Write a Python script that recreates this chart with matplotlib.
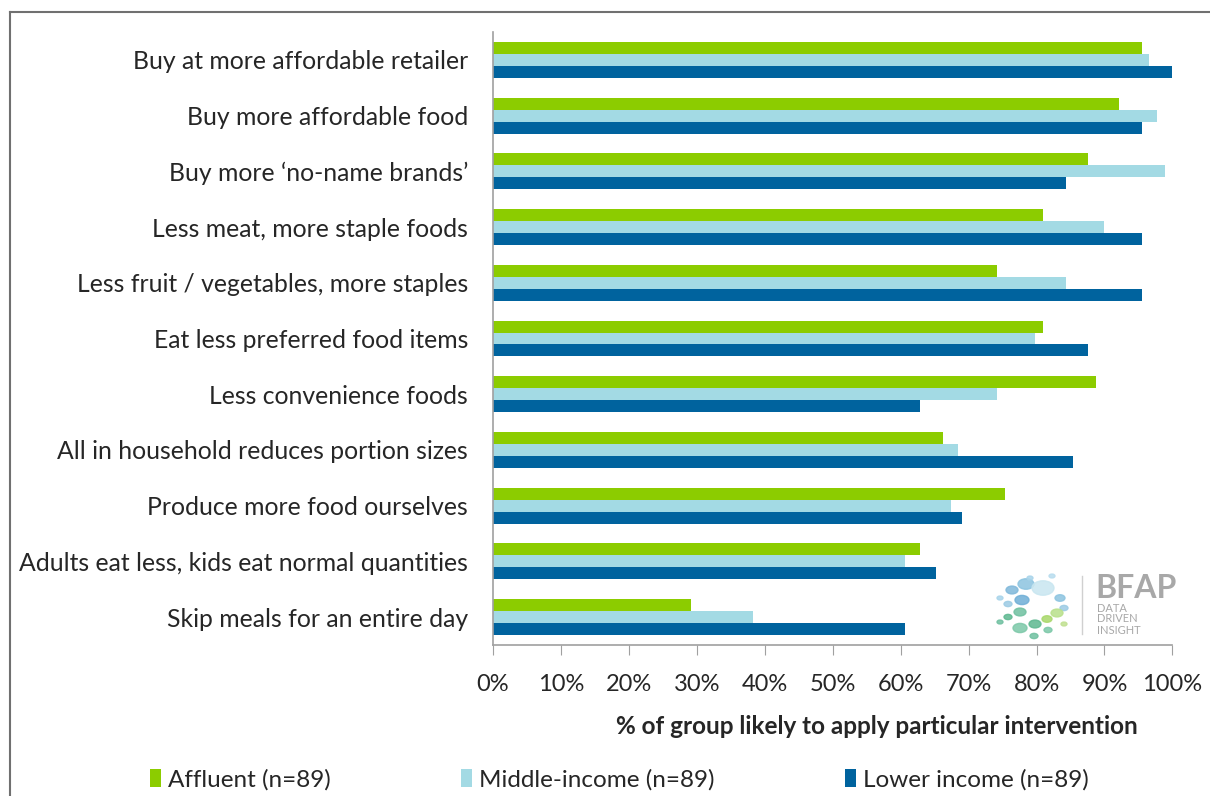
import numpy as np
import matplotlib.pyplot as plt
from matplotlib.patches import Patch, Circle
from matplotlib.lines import Line2D
from matplotlib.ticker import PercentFormatter

plt.rcParams['font.family'] = ['Lato', 'DejaVu Sans']

# Interventions (top to bottom) and share of each group (%)
categories = [
    'Buy at more affordable retailer',
    'Buy more affordable food',
    'Buy more \u2018no-name brands\u2019',
    'Less meat, more staple foods',
    'Less fruit / vegetables, more staples',
    'Eat less preferred food items',
    'Less convenience foods',
    'All in household reduces portion sizes',
    'Produce more food ourselves',
    'Adults eat less, kids eat normal quantities',
    'Skip meals for an entire day',
]
affluent = [95.5, 92.1, 87.6, 80.9, 74.2, 80.9, 88.8, 66.3, 75.3, 62.9, 29.2]
middle = [96.6, 97.8, 98.9, 89.9, 84.3, 79.8, 74.2, 68.5, 67.4, 60.7, 38.2]
lower = [100.0, 95.5, 84.3, 95.5, 95.5, 87.6, 62.9, 85.4, 69.1, 65.2, 60.7]

series_names = ['Affluent (n=89)', 'Middle-income (n=89)', 'Lower income (n=89)']
colors = ['#8CCC00', '#A3DAE4', '#00639E']

fig = plt.figure(figsize=(12.1, 7.96), dpi=100)
ax = fig.add_axes([493 / 1210, 1 - 645 / 796, (1172.4 - 493) / 1210, (645 - 32) / 796])

y = np.arange(len(categories))
h = 0.215
for off, vals, c in zip([-h, 0, h], [affluent, middle, lower], colors):
    ax.barh(y + off, vals, height=h, color=c, edgecolor='none')

ax.set_ylim(len(categories) - 0.5, -0.5)
ax.set_xlim(0, 100)
ax.set_xticks(np.arange(0, 101, 10))
ax.xaxis.set_major_formatter(PercentFormatter(decimals=0))
ax.set_yticks(y)
ax.set_yticklabels(categories, fontsize=17.8, color='#262626')
ax.tick_params(axis='y', length=0, pad=18)
ax.tick_params(axis='x', length=7, color='#A0A0A0', labelsize=17,
               labelcolor='#262626', pad=14)
for s in ['top', 'right']:
    ax.spines[s].set_visible(False)
for s in ['left', 'bottom']:
    ax.spines[s].set_color('#A0A0A0')
    ax.spines[s].set_linewidth(1.2)

ax.set_xlabel('% of group likely to apply particular intervention',
              fontsize=17.5, fontweight='bold', color='#262626')
ax.xaxis.set_label_coords((877 - 493) / (1172.4 - 493), -(726 - 645) / (645 - 32))
ax.xaxis.label.set_va('center')

handles = [Patch(facecolor=c, edgecolor='none') for c in colors]
fig.legend(handles, series_names, loc='lower left', bbox_to_anchor=(128 / 1210, -0.021),
           ncol=3, frameon=False, fontsize=17.5, handlelength=0.45, handleheight=0.75,
           handletextpad=0.3, columnspacing=5.35, labelcolor='#262626')

# frame lines of the original slide
fig.add_artist(Line2D([10 / 1210, 10 / 1210], [0, 1 - 12 / 796], color='#707070', lw=1.5))
fig.add_artist(Line2D([10 / 1210, 1], [1 - 12 / 796, 1 - 12 / 796], color='#707070', lw=1.5))

# BFAP logo (approximate)
dots = [
    (1012, 590, 6, '#7FB8DA'), (1026, 584, 8, '#8CC4E0'), (1043, 588, 11, '#C8E6F0'),
    (1022, 600, 7, '#6FAED6'), (1008, 604, 4, '#9CCBE4'), (1060, 598, 5, '#8CC4E0'),
    (1064, 608, 4, '#9CCBE4'), (1030, 578, 3, '#A8D4EA'), (1052, 576, 3, '#B8DCEE'),
    (1000, 598, 3, '#A8D4EA'),
    (1020, 612, 6, '#6FC0A0'), (1008, 617, 4, '#5DB890'), (1020, 628, 7, '#7CC8A8'),
    (1035, 624, 6, '#5DB890'), (1047, 619, 5, '#A8D86A'), (1057, 613, 6, '#B8E08A'),
    (1048, 630, 4, '#7CC8A8'), (1034, 636, 4, '#6FC0A0'), (1000, 622, 3, '#6FC0A0'),
    (1064, 624, 3, '#C0E090'),
]
for px, py, r, c in dots:
    fig.add_artist(Circle((px / 1210, 1 - py / 796), r / 1210, color=c, alpha=0.85,
                          transform=fig.transFigure))
fig.add_artist(Line2D([1082 / 1210, 1082 / 1210], [1 - 576 / 796, 1 - 634 / 796],
                      color='#D0D0D0', lw=1))
fig.text(1095 / 1210, 1 - 589 / 796, 'BFAP', fontsize=23, fontweight='bold',
         color='#A8A8A8', va='center', ha='left')
fig.text(1097 / 1210, 1 - 619 / 796, 'DATA\nDRIVEN\nINSIGHT', fontsize=8,
         color='#A8A8A8', va='center', ha='left', linespacing=1.0)

fig.savefig('out.png', dpi=100, facecolor='white')
